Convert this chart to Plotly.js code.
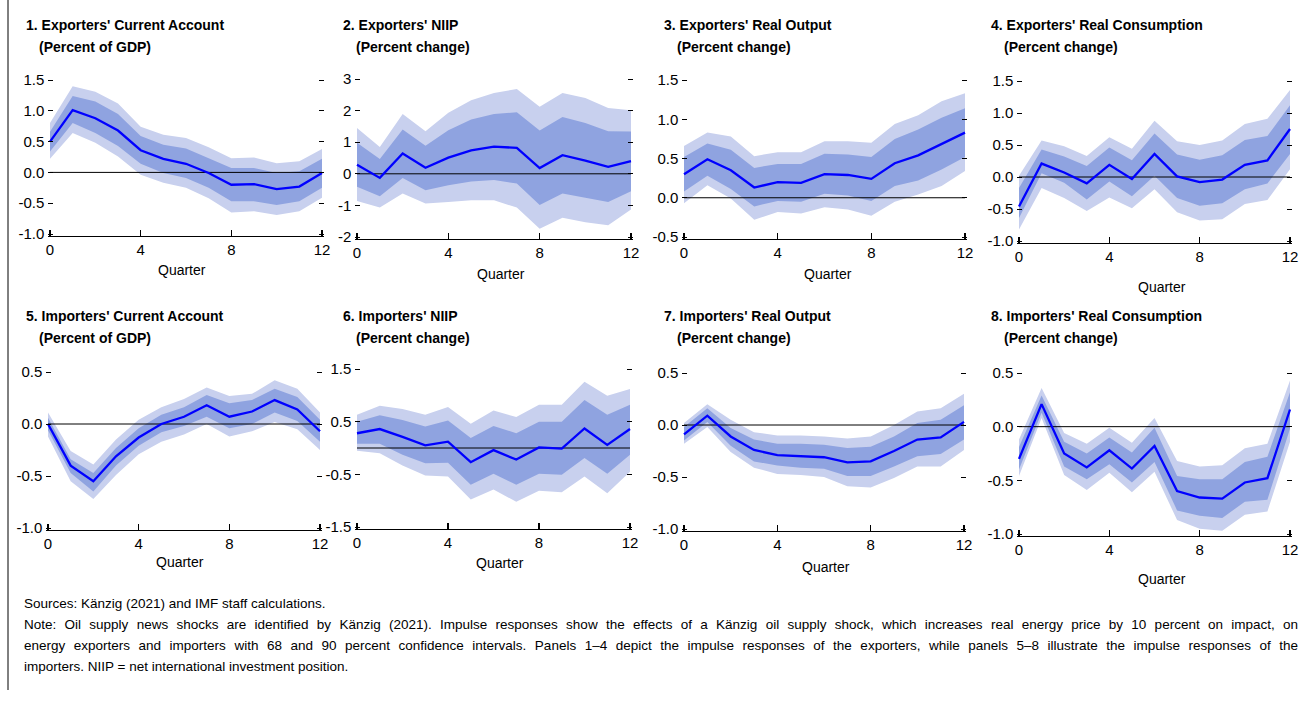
<!DOCTYPE html>
<html>
<head>
<meta charset="utf-8">
<script src="https://cdn.plot.ly/plotly-3.0.1.min.js"></script>
<style>html,body{margin:0;padding:0;background:#fff;}#chart{width:1301px;height:702px;}</style>
</head>
<body>
<div id="chart"></div>
<script>
// ---------------- DATA ----------------
const quarters = [0,1,2,3,4,5,6,7,8,9,10,11,12];
const xTickVals = [0,4,8,12];

const titles = [
  "1. Exporters' Current Account", "2. Exporters' NIIP", "3. Exporters' Real Output", "4. Exporters' Real Consumption",
  "5. Importers' Current Account", "6. Importers' NIIP", "7. Importers' Real Output", "8. Importers' Real Consumption"
];
const subtitles = [
  "(Percent of GDP)", "(Percent change)", "(Percent change)", "(Percent change)",
  "(Percent of GDP)", "(Percent change)", "(Percent change)", "(Percent change)"
];
const xAxisTitle = "Quarter";

// Panel 1: Exporters' Current Account
const p1Mid  = [0.50,1.01,0.88,0.68,0.36,0.22,0.14,-0.01,-0.20,-0.19,-0.27,-0.23,-0.01];
const p1Hi90 = [0.80,1.40,1.31,1.12,0.74,0.61,0.56,0.41,0.23,0.24,0.15,0.18,0.38];
const p1Hi68 = [0.66,1.24,1.15,0.95,0.59,0.45,0.39,0.23,0.07,0.07,-0.01,0.02,0.22];
const p1Lo68 = [0.34,0.80,0.64,0.43,0.14,-0.01,-0.09,-0.25,-0.47,-0.47,-0.53,-0.47,-0.25];
const p1Lo90 = [0.22,0.64,0.48,0.26,-0.04,-0.17,-0.25,-0.42,-0.65,-0.63,-0.69,-0.63,-0.41];

// Panel 2: Exporters' NIIP
const p2Mid  = [0.29,-0.13,0.64,0.19,0.51,0.74,0.86,0.82,0.18,0.59,0.42,0.22,0.40];
const p2Hi90 = [1.45,0.85,1.89,1.35,1.93,2.33,2.56,2.68,2.12,2.56,2.40,2.08,2.01];
const p2Hi68 = [0.98,0.47,1.40,0.89,1.38,1.72,1.89,1.95,1.37,1.80,1.61,1.35,1.34];
const p2Lo68 = [-0.41,-0.71,-0.13,-0.52,-0.36,-0.24,-0.20,-0.31,-0.99,-0.62,-0.76,-0.89,-0.55];
const p2Lo90 = [-0.86,-1.07,-0.62,-0.94,-0.89,-0.84,-0.84,-1.07,-1.74,-1.39,-1.53,-1.63,-1.13];

// Panel 3: Exporters' Real Output
const p3Mid  = [0.30,0.49,0.35,0.13,0.20,0.19,0.30,0.29,0.24,0.44,0.54,0.69,0.83];
const p3Hi90 = [0.66,0.83,0.78,0.53,0.58,0.58,0.72,0.72,0.70,0.94,1.05,1.23,1.33];
const p3Hi68 = [0.52,0.69,0.61,0.38,0.43,0.43,0.56,0.55,0.52,0.75,0.87,1.02,1.14];
const p3Lo68 = [0.08,0.28,0.11,-0.11,-0.04,-0.05,0.05,0.03,-0.04,0.15,0.22,0.36,0.52];
const p3Lo90 = [-0.07,0.16,-0.01,-0.28,-0.18,-0.20,-0.12,-0.15,-0.23,-0.05,0.04,0.15,0.34];

// Panel 4: Exporters' Real Consumption
const p4Mid  = [-0.46,0.21,0.07,-0.10,0.19,-0.03,0.36,0.01,-0.08,-0.04,0.19,0.26,0.75];
const p4Hi90 = [0.02,0.57,0.48,0.33,0.62,0.44,0.88,0.56,0.50,0.57,0.83,0.91,1.36];
const p4Hi68 = [-0.17,0.43,0.32,0.17,0.46,0.26,0.68,0.35,0.27,0.34,0.58,0.64,1.12];
const p4Lo68 = [-0.64,0.06,-0.09,-0.35,-0.07,-0.30,0.02,-0.33,-0.45,-0.41,-0.19,-0.10,0.36];
const p4Lo90 = [-0.82,-0.17,-0.33,-0.53,-0.32,-0.49,-0.19,-0.55,-0.68,-0.66,-0.42,-0.36,0.12];

// Panel 5: Importers' Current Account
const p5Mid  = [0.00,-0.40,-0.55,-0.31,-0.13,0.00,0.07,0.18,0.07,0.12,0.23,0.14,-0.07];
const p5Hi90 = [0.11,-0.26,-0.39,-0.15,0.04,0.16,0.24,0.35,0.27,0.29,0.42,0.34,0.11];
const p5Hi68 = [0.06,-0.34,-0.47,-0.23,-0.04,0.09,0.16,0.28,0.20,0.23,0.34,0.26,0.04];
const p5Lo68 = [-0.06,-0.47,-0.65,-0.40,-0.21,-0.08,-0.02,0.07,-0.04,0.00,0.11,0.03,-0.17];
const p5Lo90 = [-0.12,-0.55,-0.72,-0.49,-0.29,-0.17,-0.10,0.00,-0.12,-0.07,0.02,-0.05,-0.25];

// Panel 6: Importers' NIIP
const p6Mid  = [0.28,0.36,0.21,0.05,0.12,-0.27,-0.04,-0.22,0.01,-0.01,0.37,0.06,0.36];
const p6Hi90 = [0.63,0.80,0.74,0.63,0.78,0.46,0.71,0.59,0.82,0.82,1.26,0.99,1.12];
const p6Hi68 = [0.50,0.62,0.53,0.41,0.52,0.19,0.42,0.28,0.50,0.50,0.91,0.63,0.82];
const p6Lo68 = [0.08,0.08,-0.13,-0.29,-0.28,-0.70,-0.49,-0.70,-0.49,-0.51,-0.19,-0.49,-0.13];
const p6Lo90 = [-0.05,-0.10,-0.33,-0.52,-0.54,-0.98,-0.79,-1.02,-0.81,-0.84,-0.54,-0.86,-0.45];

// Panel 7: Importers' Real Output
const p7Mid  = [-0.09,0.09,-0.11,-0.24,-0.29,-0.30,-0.31,-0.36,-0.35,-0.25,-0.14,-0.12,0.03];
const p7Hi90 = [0.02,0.20,0.05,-0.07,-0.10,-0.10,-0.11,-0.13,-0.11,0.00,0.13,0.16,0.30];
const p7Hi68 = [-0.02,0.16,-0.03,-0.14,-0.18,-0.18,-0.19,-0.22,-0.21,-0.11,0.02,0.05,0.19];
const p7Lo68 = [-0.15,0.03,-0.20,-0.35,-0.39,-0.41,-0.42,-0.49,-0.49,-0.40,-0.30,-0.28,-0.14];
const p7Lo90 = [-0.18,-0.02,-0.26,-0.41,-0.47,-0.48,-0.50,-0.59,-0.60,-0.51,-0.40,-0.40,-0.24];

// Panel 8: Importers' Real Consumption
const p8Mid  = [-0.30,0.21,-0.25,-0.38,-0.22,-0.39,-0.18,-0.60,-0.66,-0.67,-0.52,-0.48,0.16];
const p8Hi90 = [-0.12,0.36,-0.06,-0.16,-0.01,-0.15,0.08,-0.32,-0.37,-0.36,-0.20,-0.16,0.43];
const p8Hi68 = [-0.19,0.29,-0.14,-0.25,-0.10,-0.24,-0.01,-0.46,-0.49,-0.49,-0.33,-0.28,0.32];
const p8Lo68 = [-0.40,0.13,-0.37,-0.49,-0.35,-0.52,-0.33,-0.78,-0.83,-0.85,-0.70,-0.68,-0.02];
const p8Lo90 = [-0.46,0.08,-0.45,-0.59,-0.43,-0.61,-0.42,-0.87,-0.95,-0.97,-0.82,-0.79,-0.14];

// y tick values and labels
const yTicksA = [-1,-0.5,0,0.5,1,1.5];     const yLabelsA = ["-1.0","-0.5","0.0","0.5","1.0","1.5"];
const yTicksB = [-2,-1,0,1,2,3];           const yLabelsB = ["-2","-1","0","1","2","3"];
const yTicksC = [-0.5,0,0.5,1,1.5];        const yLabelsC = ["-0.5","0.0","0.5","1.0","1.5"];
const yTicksD = [-1,-0.5,0,0.5];           const yLabelsD = ["-1.0","-0.5","0.0","0.5"];
const yTicksE = [-1.5,-0.5,0.5,1.5];       const yLabelsE = ["-1.5","-0.5","0.5","1.5"];
const yRanges = [[-1,1.5],[-2,3],[-0.5,1.5],[-1,1.5],[-1,0.5],[-1.5,1.5],[-1,0.5],[-1,0.5]];

const sourcesText = "Sources: Känzig (2021) and IMF staff calculations.";
const noteLines = [
  "Note: Oil supply news shocks are identified by Känzig (2021). Impulse responses show the effects of a Känzig oil supply shock, which increases real energy price by 10 percent on impact, on",
  "energy exporters and importers with 68 and 90 percent confidence intervals. Panels 1–4 depict the impulse responses of the exporters, while panels 5–8 illustrate the impulse responses of the",
  "importers. NIIP = net international investment position."
];

// ---------------- LAYOUT / STYLE ----------------
const W = 1301, H = 702;
const FONT = "Liberation Sans, Arial, Helvetica, sans-serif";
const C90 = "#c8d0ee", C68 = "#8fa3e0", CLINE = "#0000ff";
const JUSTIFY_WIDTH = 1274; // justified note paragraph width in px

// pixel boxes of plotting areas [left, right, top, bottom]
const boxes = [
  [50,322,80,234],[357,631,79,237],[684,965,80,237],[1019,1290,81,241],
  [48,320,372,528],[357,630,369,527],[684,964,373,529],[1019,1290,373,534]
];
const titlePos = [ // [x line1, x line2, y line1, y line2]
  [24,37,25,47],[341,354,25,47],[662,675,25,47],[989,1002,25,47],
  [24,37,316,338],[341,354,316,338],[662,675,316,338],[989,1002,316,338]
];
const quarterPos = [[182,270],[501,274],[828,274],[1162,287],[180,562],[500,563],[826,567],[1162,579]];

const panels = [
  [p1Mid,p1Hi90,p1Hi68,p1Lo68,p1Lo90,yTicksA,yLabelsA],
  [p2Mid,p2Hi90,p2Hi68,p2Lo68,p2Lo90,yTicksB,yLabelsB],
  [p3Mid,p3Hi90,p3Hi68,p3Lo68,p3Lo90,yTicksC,yLabelsC],
  [p4Mid,p4Hi90,p4Hi68,p4Lo68,p4Lo90,yTicksA,yLabelsA],
  [p5Mid,p5Hi90,p5Hi68,p5Lo68,p5Lo90,yTicksD,yLabelsD],
  [p6Mid,p6Hi90,p6Hi68,p6Lo68,p6Lo90,yTicksE,yLabelsE],
  [p7Mid,p7Hi90,p7Hi68,p7Lo68,p7Lo90,yTicksD,yLabelsD],
  [p8Mid,p8Hi90,p8Hi68,p8Lo68,p8Lo90,yTicksD,yLabelsD]
];

const traces = [];
const layout = {
  width: W, height: H,
  margin: {l:0,r:0,t:0,b:0},
  paper_bgcolor: "#fff", plot_bgcolor: "rgba(0,0,0,0)",
  showlegend: false, hovermode: false,
  font: {family: FONT, size: 14, color: "#000"},
  annotations: [], shapes: []
};

panels.forEach((p, i) => {
  const n = i + 1;
  const xa = "x" + (n === 1 ? "" : n), ya = "y" + (n === 1 ? "" : n);
  const [mid, hi90, hi68, lo68, lo90, tv, tt] = p;
  const base = {x: quarters, xaxis: xa, yaxis: ya, mode: "lines", hoverinfo: "skip"};
  traces.push(Object.assign({}, base, {y: lo90, line: {width: 0, color: C90}}));
  traces.push(Object.assign({}, base, {y: hi90, line: {width: 0, color: C90}, fill: "tonexty", fillcolor: C90}));
  traces.push(Object.assign({}, base, {y: lo68, line: {width: 0, color: C68}}));
  traces.push(Object.assign({}, base, {y: hi68, line: {width: 0, color: C68}, fill: "tonexty", fillcolor: C68}));
  traces.push(Object.assign({}, base, {x: [quarters[0], quarters[quarters.length-1]], y: [0, 0], line: {width: 1, color: "#000"}}));
  traces.push(Object.assign({}, base, {y: mid, line: {width: 2.3, color: CLINE}}));

  const b = boxes[i];
  const r = yRanges[i];
  const yPad = (r[1] - r[0]) * 1.6 / (b[3] - b[2]);   // ~1.6 px so end ticks are kept
  const xPad = 12 * 1.6 / (b[1] - b[0]);
  layout["xaxis" + (n === 1 ? "" : n)] = {
    domain: [(b[0] - 1.6)/W, (b[1] + 1.6)/W], anchor: ya,
    range: [-xPad, 12 + xPad], tickvals: xTickVals, ticktext: xTickVals.map(String),
    ticks: "inside", ticklen: 6, tickwidth: 1.3, tickcolor: "#000",
    showline: true, linecolor: "#000", linewidth: 1.3,
    showgrid: false, zeroline: false, fixedrange: true,
    tickfont: {family: FONT, size: 15, color: "#000"}
  };
  layout["yaxis" + (n === 1 ? "" : n)] = {
    domain: [1 - (b[3] + 1.6)/H, 1 - (b[2] - 1.6)/H], anchor: xa,
    range: [r[0] - yPad, r[1] + yPad], tickvals: tv, ticktext: tt,
    ticks: "inside", ticklen: 5, tickwidth: 1, tickcolor: "#000",
    mirror: "ticks", showline: false, ticklabelstandoff: 3,
    showgrid: false, zeroline: false, fixedrange: true,
    tickfont: {family: FONT, size: 15, color: "#000"}
  };

  const tp = titlePos[i];
  layout.annotations.push({text: "<b>" + titles[i] + "</b>", xref: "paper", yref: "paper",
    x: tp[0]/W, y: 1 - tp[2]/H, xanchor: "left", yanchor: "middle", showarrow: false,
    font: {family: FONT, size: 14, color: "#000"}});
  layout.annotations.push({text: "<b>" + subtitles[i] + "</b>", xref: "paper", yref: "paper",
    x: tp[1]/W, y: 1 - tp[3]/H, xanchor: "left", yanchor: "middle", showarrow: false,
    font: {family: FONT, size: 14, color: "#000"}});
  const qp = quarterPos[i];
  layout.annotations.push({text: xAxisTitle, xref: "paper", yref: "paper",
    x: qp[0]/W, y: 1 - qp[1]/H, xanchor: "center", yanchor: "middle", showarrow: false,
    font: {family: FONT, size: 14, color: "#000"}});
});

// notes
layout.annotations.push({text: sourcesText, xref: "paper", yref: "paper", x: 22/W, y: 1 - 603/H,
  xanchor: "left", yanchor: "middle", showarrow: false, font: {family: FONT, size: 13.5, color: "#000"}});
noteLines.forEach((t, k) => {
  layout.annotations.push({text: t, xref: "paper", yref: "paper", x: 22/W, y: 1 - (624 + 21*k)/H,
    xanchor: "left", yanchor: "middle", showarrow: false, font: {family: FONT, size: 13.5, color: "#000"}});
});

// left frame line
layout.shapes.push({type: "line", xref: "paper", yref: "paper", x0: 8/W, x1: 8/W, y0: 1, y1: 1 - 690/H,
  line: {color: "#000", width: 1}});

Plotly.newPlot("chart", traces, layout, {displayModeBar: false, staticPlot: true}).then(gd => {
  // justify the first two note lines, as in the original paragraph, keeping the left edge fixed
  gd.querySelectorAll(".annotation-text").forEach(t => {
    const idx = noteLines.indexOf(t.textContent);
    if (idx === 0 || idx === 1) {
      const before = t.getBBox();
      const nSp = (t.textContent.match(/ /g) || []).length;
      if (nSp > 0 && before.width < JUSTIFY_WIDTH) {
        t.style.wordSpacing = ((JUSTIFY_WIDTH - before.width) / nSp).toFixed(2) + "px";
        const after = t.getBBox();
        const dx = before.x - after.x;
        const prev = t.getAttribute("transform") || "";
        t.setAttribute("transform", prev + " translate(" + dx.toFixed(2) + ",0)");
      }
    }
  });
});
</script>
</body>
</html>
